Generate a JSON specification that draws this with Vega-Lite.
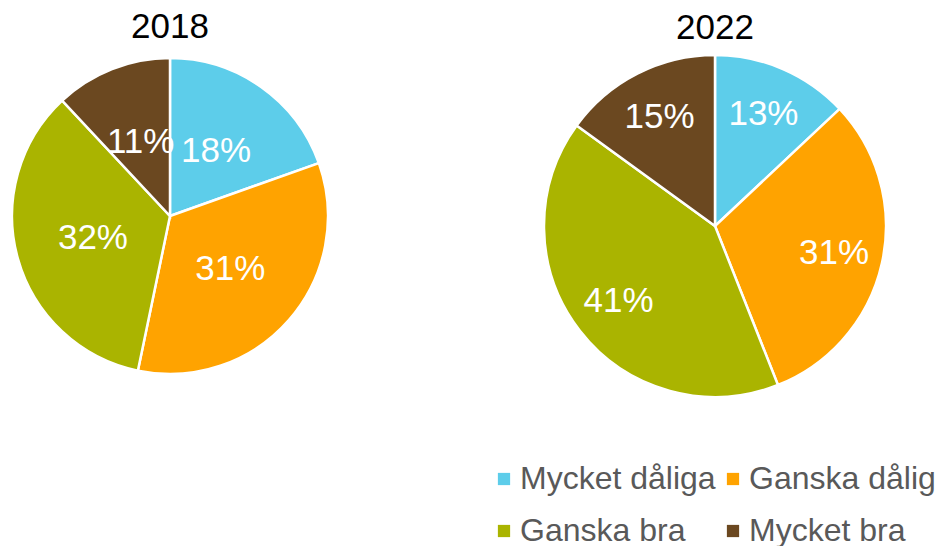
{
  "$schema": "https://vega.github.io/schema/vega-lite/v6.json",
  "background": "white",
  "padding": {"left": 7, "top": 10, "right": 0, "bottom": 0},
  "spacing": 206,
  "data": {
    "values": [
      {"year": "2018", "category": "Mycket dåliga", "ord": 1, "value": 18, "label": "18%"},
      {"year": "2018", "category": "Ganska dåliga", "ord": 2, "value": 31, "label": "31%"},
      {"year": "2018", "category": "Ganska bra", "ord": 3, "value": 32, "label": "32%"},
      {"year": "2018", "category": "Mycket bra", "ord": 4, "value": 11, "label": "11%"},
      {"year": "2022", "category": "Mycket dåliga", "ord": 1, "value": 13, "label": "13%"},
      {"year": "2022", "category": "Ganska dåliga", "ord": 2, "value": 31, "label": "31%"},
      {"year": "2022", "category": "Ganska bra", "ord": 3, "value": 41, "label": "41%"},
      {"year": "2022", "category": "Mycket bra", "ord": 4, "value": 15, "label": "15%"}
    ]
  },
  "config": {
    "view": {"stroke": null},
    "font": "Liberation Sans",
    "title": {"fontSize": 35, "fontWeight": "normal", "color": "#000000", "font": "Liberation Sans", "baseline": "alphabetic", "offset": 8, "anchor": "middle"},
    "legend": {
      "orient": "none",
      "legendX": 476,
      "legendY": 408,
      "direction": "horizontal",
      "columns": 2,
      "padding": 0,
      "symbolType": "square",
      "symbolSize": 150,
      "symbolStrokeWidth": 0,
      "labelFontSize": 32,
      "labelFont": "Liberation Sans",
      "labelColor": "#595959",
      "labelLimit": 500,
      "labelOffset": 0,
      "columnPadding": 1,
      "rowPadding": 20
    }
  },
  "hconcat": [
    {
      "title": {"text": "2018"},
      "width": 316,
      "height": 322,
      "transform": [{"filter": "datum.year == '2018'"}],
      "encoding": {
        "theta": {"field": "value", "type": "quantitative", "stack": true},
        "order": {"field": "ord", "type": "quantitative"}
      },
      "layer": [
        {
          "mark": {"type": "arc", "stroke": "white", "strokeWidth": 2.5},
          "encoding": {
            "color": {
              "field": "category", "type": "nominal", "title": null,
              "scale": {"domain": ["Mycket dåliga", "Ganska dåliga", "Ganska bra", "Mycket bra"], "range": ["#5DCDEA", "#FFA300", "#AAB400", "#6B4820"]}
            }
          }
        },
        {
          "mark": {"type": "text", "radius": 80, "fontSize": 35, "font": "Liberation Sans", "fill": "white"},
          "encoding": {"text": {"field": "label", "type": "nominal"}}
        }
      ]
    },
    {
      "title": {"text": "2022", "dy": 4},
      "width": 342,
      "height": 342,
      "transform": [{"filter": "datum.year == '2022'"}],
      "encoding": {
        "theta": {"field": "value", "type": "quantitative", "stack": true},
        "order": {"field": "ord", "type": "quantitative"}
      },
      "layer": [
        {
          "mark": {"type": "arc", "stroke": "white", "strokeWidth": 2.5},
          "encoding": {
            "color": {
              "field": "category", "type": "nominal", "title": null,
              "scale": {"domain": ["Mycket dåliga", "Ganska dåliga", "Ganska bra", "Mycket bra"], "range": ["#5DCDEA", "#FFA300", "#AAB400", "#6B4820"]}
            }
          }
        },
        {
          "mark": {"type": "text", "radius": 122, "fontSize": 35, "font": "Liberation Sans", "fill": "white"},
          "encoding": {"text": {"field": "label", "type": "nominal"}}
        }
      ]
    }
  ]
}
